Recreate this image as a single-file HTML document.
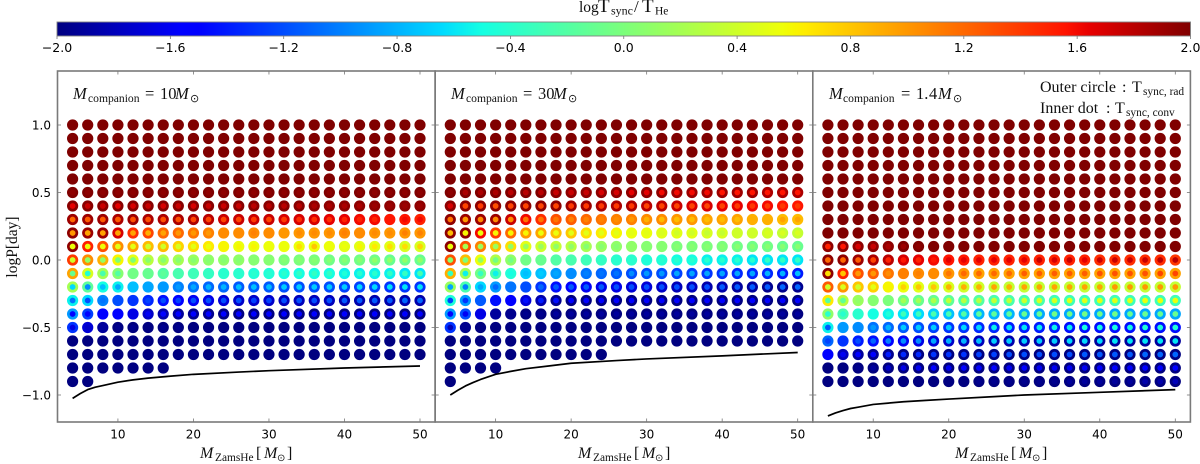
<!DOCTYPE html>
<html lang="en">
<head>
<meta charset="utf-8">
<title>Synchronisation timescale grid</title>
<style>
html,body{margin:0;padding:0;background:#fff;width:1200px;height:464px;overflow:hidden}
svg{display:block}
.tick{font-family:"DejaVu Sans",sans-serif;font-size:12px;fill:#000}
.cbtick{font-family:"DejaVu Sans",sans-serif;font-size:12.5px;fill:#000}
.m{font-family:"Liberation Serif","DejaVu Serif",serif;fill:#111}
.i{font-style:italic}
</style>
</head>
<body>
<svg id="chart" xmlns="http://www.w3.org/2000/svg" width="1200" height="464" viewBox="0 0 1200 464">
  <g id="panels"></g>
  <g id="colorbar"></g>
  <g>
    <text class="m" y="12" font-size="15.5"><tspan x="579">log</tspan><tspan x="598" font-size="19">T</tspan><tspan x="611" dy="2.5" font-size="12">sync</tspan><tspan x="634" dy="-2.5" font-size="17">/</tspan><tspan x="642" font-size="19">T</tspan><tspan x="655" dy="2.5" font-size="11.5">He</tspan></text>
  </g>
  <g>
    <text class="m" y="99" font-size="16.5"><tspan class="i" x="73">M</tspan><tspan x="88" dy="3" font-size="11.6">companion</tspan><tspan x="145" dy="-3">=</tspan><tspan x="160">10</tspan><tspan class="i" x="175">M</tspan><tspan x="190" dy="3" font-size="11" font-family="DejaVu Sans">⊙</tspan></text>
  </g>
  <g>
    <text class="m" y="99" font-size="16.5"><tspan class="i" x="451">M</tspan><tspan x="466" dy="3" font-size="11.6">companion</tspan><tspan x="523" dy="-3">=</tspan><tspan x="538">30</tspan><tspan class="i" x="553">M</tspan><tspan x="568" dy="3" font-size="11" font-family="DejaVu Sans">⊙</tspan></text>
  </g>
  <g>
    <text class="m" y="99" font-size="16.5"><tspan class="i" x="829">M</tspan><tspan x="843" dy="3" font-size="11.6">companion</tspan><tspan x="901" dy="-3">=</tspan><tspan x="916">1.</tspan><tspan x="929">4</tspan><tspan class="i" x="938">M</tspan><tspan x="953" dy="3" font-size="11" font-family="DejaVu Sans">⊙</tspan></text>
  </g>
  <g>
    <text class="m" y="92" font-size="16"><tspan x="1040">Outer circle</tspan><tspan x="1122">:</tspan><tspan x="1132">T</tspan><tspan x="1143" dy="3" font-size="11.4">sync, rad</tspan></text>
    <text class="m" y="113" font-size="16"><tspan x="1040">Inner dot</tspan><tspan x="1106">:</tspan><tspan x="1115">T</tspan><tspan x="1126" dy="3" font-size="11.4">sync, conv</tspan></text>
  </g>
  <text class="m" font-size="15.5" transform="translate(17,247) rotate(-90)" text-anchor="middle">logP[day]</text>
  <g>
    <text class="m" y="458" font-size="16"><tspan class="i" x="200">M</tspan><tspan x="215" dy="3" font-size="11.4">ZamsHe</tspan><tspan x="256" dy="-3">[</tspan><tspan class="i" x="264">M</tspan><tspan x="277" dy="3" font-size="10" font-family="DejaVu Sans">⊙</tspan><tspan x="287" dy="-3">]</tspan></text>
    <text class="m" y="458" font-size="16"><tspan class="i" x="578">M</tspan><tspan x="593" dy="3" font-size="11.4">ZamsHe</tspan><tspan x="634" dy="-3">[</tspan><tspan class="i" x="642">M</tspan><tspan x="655" dy="3" font-size="10" font-family="DejaVu Sans">⊙</tspan><tspan x="665" dy="-3">]</tspan></text>
    <text class="m" y="458" font-size="16"><tspan class="i" x="955">M</tspan><tspan x="970" dy="3" font-size="11.4">ZamsHe</tspan><tspan x="1011" dy="-3">[</tspan><tspan class="i" x="1019">M</tspan><tspan x="1032" dy="3" font-size="10" font-family="DejaVu Sans">⊙</tspan><tspan x="1042" dy="-3">]</tspan></text>
  </g>
</svg>
<script>
const massValues=[4,6,8,10,12,14,16,18,20,22,24,26,28,30,32,34,36,38,40,42,44,46,48,50];
const periodValues=[1.0,0.9,0.8,0.7,0.6,0.5,0.4,0.3,0.2,0.1,0.0,-0.1,-0.2,-0.3,-0.4,-0.5,-0.6,-0.7,-0.8,-0.9];
const xTicks=[10,20,30,40,50];
const yTicks=[1.0,0.5,0.0,-0.5,-1.0];
const colorbarTicks=[-2.0,-1.6,-1.2,-0.8,-0.4,0.0,0.4,0.8,1.2,1.6,2.0];

const panel1Outer=[
[2,2,2,2,2,2,2,2,2,2,2,2,2,2,2,2,2,2,2,2,2,2,2,2],
[2,2,2,2,2,2,2,2,2,2,2,2,2,2,2,2,2,2,2,2,2,2,2,2],
[2,2,2,2,2,2,2,2,2,2,2,2,2,2,2,2,2,2,2,2,2,2,2,2],
[2,2,2,2,2,2,2,2,2,2,2,2,2,2,2,2,2,2,2,2,2,2,2,2],
[2,2,2,2,2,2,2,2,2,2,2,2,2,2,2,2,2,2,2,2,2,2,2,2],
[2,2,2,2,2,2,2,2,2,2,2,2,2,2,2,2,2,2,2,2,2,2,2,2],
[1.97,1.97,1.97,1.97,1.97,1.97,1.97,1.97,1.97,1.97,1.97,1.97,1.97,1.97,1.97,1.97,1.95,1.95,1.95,1.95,1.95,1.95,1.95,1.95],
[1.9,1.9,1.9,1.85,1.9,1.85,1.85,1.85,1.85,1.8,1.75,1.75,1.75,1.75,1.7,1.7,1.7,1.65,1.65,1.6,1.6,1.55,1.55,1.5],
[1.95,1.9,1.9,1.7,1.45,1.35,1.2,1.2,1.15,1.1,1.05,1.05,1.05,1.05,1,1,1,1,1.05,1.05,1,1,1,1],
[1.95,1.5,1.3,1.05,.95,.85,.85,.75,.7,.65,.6,.55,.55,.55,.55,.55,.55,.55,.5,.5,.5,.5,.45,.45],
[1.4,1.05,.9,.6,.5,.3,.25,.2,.15,.1,.1,.1,.05,.05,0,0,0,-.05,-.05,-.05,-.05,-.1,-.1,-.1],
[.95,.45,.2,.05,-.05,-.1,-.2,-.25,-.3,-.35,-.4,-.4,-.45,-.45,-.5,-.5,-.5,-.5,-.55,-.55,-.55,-.55,-.6,-.6],
[.2,-.15,-.5,-.55,-.75,-.85,-.9,-1,-1.05,-1.1,-1.1,-1.15,-1.15,-1.15,-1.2,-1.2,-1.2,-1.2,-1.25,-1.25,-1.25,-1.3,-1.3,-1.3],
[-.55,-.65,-1,-1.2,-1.3,-1.35,-1.45,-1.55,-1.6,-1.65,-1.7,-1.75,-1.75,-1.75,-1.8,-1.8,-1.8,-1.8,-1.85,-1.85,-1.85,-1.85,-1.85,-1.85],
[-.9,-1.25,-1.5,-1.55,-1.65,-1.75,-1.85,-1.9,-1.95,-1.95,-2,-2,-2,-2,-2,-2,-2,-2,-2,-2,-2,-2,-2,-2],
[-1.3,-1.7,-1.9,-2,-2,-2,-2,-2,-2,-2,-2,-2,-2,-2,-2,-2,-2,-2,-2,-2,-2,-2,-2,-2],
[-2,-2,-2,-2,-2,-2,-2,-2,-2,-2,-2,-2,-2,-2,-2,-2,-2,-2,-2,-2,-2,-2,-2,-2],
[-2,-2,-2,-2,-2,-2,-2,-2,-2,-2,-2,-2,-2,-2,-2,-2,-2,-2,-2,-2,-2,-2,-2,-2],
[-2,-2,-2,-2,-2,-2,-2,null,null,null,null,null,null,null,null,null,null,null,null,null,null,null,null,null],
[-2,-2,null,null,null,null,null,null,null,null,null,null,null,null,null,null,null,null,null,null,null,null,null,null]
];
const panel1Inner=[
[2,2,2,2,2,2,2,2,2,2,2,2,2,2,2,2,2,2,2,2,2,2,2,2],
[2,2,2,2,2,2,2,2,2,2,2,2,2,2,2,2,2,2,2,2,2,2,2,2],
[2,2,2,2,2,2,2,2,2,2,2,2,2,2,2,2,2,2,2,2,2,2,2,2],
[2,2,2,2,2,2,2,2,2,2,2,2,2,2,2,2,2,2,2,2,2,2,2,2],
[2,2,2,2,2,2,2,2,2,2,2,2,2,2,2,2,2,2,2,2,2,2,2,2],
[1.95,1.95,1.95,1.95,1.95,1.95,1.95,1.95,1.95,1.95,1.95,1.95,1.95,1.95,1.95,1.95,1.95,1.95,1.95,1.95,1.95,1.95,1.95,1.95],
[1.65,1.75,1.75,1.65,1.7,1.75,1.7,1.75,1.7,1.75,1.75,1.75,1.8,1.8,1.8,1.8,1.85,1.85,1.85,1.85,1.9,1.9,1.9,1.9],
[1.2,1.25,1.25,1.25,1.3,1.3,1.3,1.3,1.35,1.35,1.35,1.35,1.4,1.35,1.4,1.45,1.45,1.45,1.5,1.5,1.5,1.55,1.6,1.6],
[1,.95,.95,.95,.95,.9,.95,1,1,1,1.05,1.05,1.1,1.05,1,1.05,1.05,1.05,1.1,1.05,1.05,1.05,1.1,1.1],
[.55,.55,.55,.5,.5,.4,.4,.45,.5,.55,.6,.6,.6,.55,.55,.7,.8,.55,.55,.6,.65,.7,.7,.75],
[.4,.1,.1,0,0,.05,.05,.05,.05,.05,.05,.05,.05,.05,.05,.05,.05,.05,.05,.05,.1,.1,.1,.1],
[-.1,-.45,-.25,-.2,-.05,-.1,-.15,-.25,-.3,-.35,-.4,-.4,-.4,-.4,-.4,-.35,-.35,-.35,-.45,-.4,-.4,-.35,-.35,-.25],
[-.65,-.95,-.75,-.85,-.75,-.85,-.9,-.9,-.85,-.8,-.8,-.75,-.75,-.75,-.7,-.7,-.7,-.7,-.7,-.65,-.65,-.6,-.6,-.6],
[-1.05,-1.2,-1.05,-1.2,-1.3,-1.25,-1.2,-1.25,-1.2,-1.2,-1.2,-1.2,-1.25,-1.25,-1.2,-1.2,-1.2,-1.2,-1.15,-1.15,-1.15,-1.15,-1.1,-1.1],
[-1.5,-1.55,-1.5,-1.55,-1.65,-1.6,-1.55,-1.55,-1.5,-1.5,-1.55,-1.55,-1.55,-1.55,-1.55,-1.55,-1.55,-1.55,-1.5,-1.5,-1.5,-1.5,-1.5,-1.5],
[-1.65,-1.75,-1.9,-1.95,-1.95,-2,-1.95,-1.95,-2,-2,-2,-2,-2,-2,-2,-2,-2,-2,-2,-2,-2,-2,-2,-2],
[-2,-2,-2,-2,-2,-2,-2,-2,-2,-2,-2,-2,-2,-2,-2,-2,-2,-2,-2,-2,-2,-2,-2,-2],
[-2,-2,-2,-2,-2,-2,-2,-2,-2,-2,-2,-2,-2,-2,-2,-2,-2,-2,-2,-2,-2,-2,-2,-2],
[-2,-2,-2,-2,-2,-2,-2,null,null,null,null,null,null,null,null,null,null,null,null,null,null,null,null,null],
[-2,-2,null,null,null,null,null,null,null,null,null,null,null,null,null,null,null,null,null,null,null,null,null,null]
];
const panel2Outer=[
[2,2,2,2,2,2,2,2,2,2,2,2,2,2,2,2,2,2,2,2,2,2,2,2],
[2,2,2,2,2,2,2,2,2,2,2,2,2,2,2,2,2,2,2,2,2,2,2,2],
[2,2,2,2,2,2,2,2,2,2,2,2,2,2,2,2,2,2,2,2,2,2,2,2],
[2,2,2,2,2,2,2,2,2,2,2,2,2,2,2,2,2,2,2,2,2,2,2,2],
[2,2,2,2,2,2,2,2,2,2,2,2,2,2,2,2,2,2,2,2,2,2,2,2],
[2,2,2,2,2,2,2,1.97,1.95,1.95,1.95,1.95,1.95,1.95,1.95,1.9,1.9,1.9,1.9,1.9,1.9,1.85,1.85,1.85],
[1.95,1.95,1.95,1.95,1.95,1.95,1.95,1.95,1.9,1.9,1.85,1.85,1.85,1.8,1.8,1.75,1.7,1.7,1.65,1.65,1.6,1.6,1.55,1.55],
[1.95,1.9,1.9,1.9,1.75,1.6,1.45,1.3,1.25,1.2,1.15,1.1,1.1,1.05,1.05,1,1,.95,.95,.95,.9,.9,.85,.85],
[1.95,1.95,1.6,1.4,1.2,1,.95,.85,.8,.7,.65,.6,.55,.55,.5,.5,.5,.45,.45,.4,.4,.4,.35,.35],
[1.95,1.3,1.1,.85,.7,.5,.4,.35,.3,.2,.15,.1,.1,.05,.05,0,0,0,0,-.05,-.05,-.05,-.1,-.1],
[1.3,.85,.55,.25,.1,-.05,-.1,-.2,-.25,-.3,-.35,-.4,-.4,-.45,-.45,-.5,-.5,-.55,-.55,-.55,-.6,-.6,-.6,-.6],
[.9,.2,-.05,-.25,-.45,-.7,-.75,-.9,-.95,-1.05,-1.1,-1.15,-1.2,-1.2,-1.2,-1.25,-1.25,-1.3,-1.3,-1.35,-1.35,-1.35,-1.4,-1.4],
[.15,-.25,-.65,-.9,-1.05,-1.2,-1.3,-1.45,-1.55,-1.6,-1.65,-1.65,-1.7,-1.7,-1.75,-1.8,-1.8,-1.85,-1.85,-1.9,-1.9,-1.95,-1.95,-1.95],
[-.45,-.9,-1.15,-1.45,-1.5,-1.7,-1.85,-1.95,-2,-2,-2,-2,-2,-2,-2,-2,-2,-2,-2,-2,-2,-2,-2,-2],
[-.9,-1.2,-1.65,-1.9,-1.95,-2,-2,-2,-2,-2,-2,-2,-2,-2,-2,-2,-2,-2,-2,-2,-2,-2,-2,-2],
[-1.3,-1.95,-2,-2,-2,-2,-2,-2,-2,-2,-2,-2,-2,-2,-2,-2,-2,-2,-2,-2,-2,-2,-2,-2],
[-2,-2,-2,-2,-2,-2,-2,-2,-2,-2,-2,-2,-2,-2,-2,-2,-2,-2,-2,-2,-2,-2,-2,-2],
[-2,-2,-2,-2,-2,-2,-2,-2,-2,-2,-2,null,null,null,null,null,null,null,null,null,null,null,null,null],
[-2,-2,-2,-2,null,null,null,null,null,null,null,null,null,null,null,null,null,null,null,null,null,null,null,null],
[-2,null,null,null,null,null,null,null,null,null,null,null,null,null,null,null,null,null,null,null,null,null,null,null]
];
const panel2Inner=[
[2,2,2,2,2,2,2,2,2,2,2,2,2,2,2,2,2,2,2,2,2,2,2,2],
[2,2,2,2,2,2,2,2,2,2,2,2,2,2,2,2,2,2,2,2,2,2,2,2],
[2,2,2,2,2,2,2,2,2,2,2,2,2,2,2,2,2,2,2,2,2,2,2,2],
[2,2,2,2,2,2,2,2,2,2,2,2,2,2,2,2,2,2,2,2,2,2,2,2],
[2,2,2,2,2,2,2,2,2,2,2,2,2,2,2,2,2,2,2,2,2,2,2,2],
[1.95,1.85,1.85,1.85,1.8,1.8,1.8,1.75,1.75,1.75,1.7,1.7,1.65,1.65,1.6,1.6,1.6,1.6,1.55,1.55,1.55,1.55,1.55,1.55],
[1.7,1.35,1.4,1.3,1.35,1.35,1.35,1.35,1.4,1.4,1.4,1.4,1.4,1.35,1.35,1.35,1.35,1.35,1.35,1.4,1.4,1.4,1.4,1.4],
[1.15,1,1.05,1.05,1.05,1.15,1.15,1.15,1.1,1.1,1.1,1.05,1,.9,.85,.85,.85,.85,.85,.85,.9,.9,.95,.95],
[.85,.6,.55,.6,.6,.6,.55,.55,.5,.5,.5,.5,.5,.5,.45,.4,.4,.35,.35,.4,.4,.45,.45,.45],
[.55,.2,.15,.15,.1,.15,.15,.1,.1,.05,.05,.05,.1,.05,.05,.05,.05,.05,.05,.05,.05,.05,.05,.05],
[.05,0,.1,-.05,-.05,-.05,-.1,-.2,-.25,-.3,-.35,-.4,-.4,-.45,-.4,-.4,-.4,-.4,-.4,-.4,-.4,-.35,-.35,-.35],
[-.35,-.55,-.35,-.55,-.5,-.75,-.7,-.85,-.95,-1,-1.05,-1.05,-.95,-.9,-.9,-.85,-.85,-.85,-.85,-.85,-.85,-.8,-.8,-.75],
[-.85,-1,-.85,-1.1,-1.05,-1.2,-1.1,-1.15,-1.15,-1.15,-1.15,-1.2,-1.2,-1.2,-1.2,-1.2,-1.2,-1.2,-1.15,-1.15,-1.15,-1.15,-1.1,-1.1],
[-1.25,-1.3,-1.15,-1.45,-1.5,-1.45,-1.4,-1.45,-1.5,-1.5,-1.5,-1.5,-1.55,-1.55,-1.55,-1.55,-1.55,-1.55,-1.5,-1.5,-1.5,-1.5,-1.5,-1.5],
[-1.55,-1.6,-1.65,-1.9,-1.95,-1.95,-1.95,-1.9,-1.9,-1.9,-1.9,-1.9,-1.9,-1.9,-1.9,-1.9,-1.9,-1.9,-1.9,-1.9,-1.9,-1.9,-1.9,-1.9],
[-1.8,-1.95,-2,-2,-2,-2,-2,-2,-2,-2,-2,-2,-2,-2,-2,-2,-2,-2,-2,-2,-2,-2,-2,-2],
[-2,-2,-2,-2,-2,-2,-2,-2,-2,-2,-2,-2,-2,-2,-2,-2,-2,-2,-2,-2,-2,-2,-2,-2],
[-2,-2,-2,-2,-2,-2,-2,-2,-2,-2,-2,null,null,null,null,null,null,null,null,null,null,null,null,null],
[-2,-2,-2,-2,null,null,null,null,null,null,null,null,null,null,null,null,null,null,null,null,null,null,null,null],
[-2,null,null,null,null,null,null,null,null,null,null,null,null,null,null,null,null,null,null,null,null,null,null,null]
];
const panel3Outer=[
[2,2,2,2,2,2,2,2,2,2,2,2,2,2,2,2,2,2,2,2,2,2,2,2],
[2,2,2,2,2,2,2,2,2,2,2,2,2,2,2,2,2,2,2,2,2,2,2,2],
[2,2,2,2,2,2,2,2,2,2,2,2,2,2,2,2,2,2,2,2,2,2,2,2],
[2,2,2,2,2,2,2,2,2,2,2,2,2,2,2,2,2,2,2,2,2,2,2,2],
[2,2,2,2,2,2,2,2,2,2,2,2,2,2,2,2,2,2,2,2,2,2,2,2],
[2,2,2,2,2,2,2,2,2,2,2,2,2,2,2,2,2,2,2,2,2,2,2,2],
[2,2,2,2,2,2,2,2,2,2,2,2,2,2,2,2,2,2,2,2,2,2,2,2],
[2,2,2,2,2,2,2,2,2,2,2,2,2,2,2,2,2,2,2,2,2,2,2,2],
[2,2,2,2,2,2,2,2,2,2,2,2,2,2,2,2,2,2,2,2,2,2,2,2],
[1.95,1.95,1.95,1.95,1.95,2,2,2,2,2,2,2,2,2,2,2,2,2,2,2,2,2,2,2],
[1.95,1.95,1.9,1.85,1.8,1.7,1.65,1.6,1.55,1.55,1.5,1.5,1.5,1.5,1.5,1.5,1.5,1.5,1.45,1.45,1.45,1.45,1.45,1.4],
[1.95,1.5,1.3,1.25,1.15,1.1,1.05,1.05,1,1,.95,.95,.95,.95,.95,.95,.95,.95,.95,.95,.95,.95,.95,.95],
[1.25,1,.8,.75,.6,.55,.5,.45,.45,.4,.4,.35,.35,.35,.35,.35,.35,.35,.35,.35,.35,.35,.35,.35],
[.65,.3,.15,.05,0,-.05,-.1,-.1,-.15,-.2,-.2,-.25,-.25,-.25,-.25,-.3,-.3,-.3,-.3,-.3,-.3,-.3,-.3,-.3],
[.1,-.25,-.4,-.5,-.55,-.6,-.65,-.7,-.75,-.75,-.8,-.8,-.8,-.85,-.85,-.85,-.85,-.85,-.85,-.85,-.85,-.85,-.85,-.85],
[-.55,-.9,-.95,-1.05,-1.1,-1.15,-1.2,-1.25,-1.3,-1.3,-1.35,-1.35,-1.4,-1.4,-1.4,-1.4,-1.45,-1.45,-1.45,-1.45,-1.45,-1.45,-1.45,-1.45],
[-1.1,-1.3,-1.4,-1.45,-1.5,-1.6,-1.65,-1.7,-1.75,-1.8,-1.8,-1.85,-1.85,-1.85,-1.85,-1.9,-1.9,-1.9,-1.9,-1.9,-1.9,-1.9,-1.9,-1.9],
[-1.55,-1.8,-1.9,-1.95,-1.95,-2,-2,-2,-2,-2,-2,-2,-2,-2,-2,-2,-2,-2,-2,-2,-2,-2,-2,-2],
[-2,-2,-2,-2,-2,-2,-2,-2,-2,-2,-2,-2,-2,-2,-2,-2,-2,-2,-2,-2,-2,-2,-2,-2],
[-2,-2,-2,-2,-2,-2,-2,-2,-2,-2,-2,-2,-2,-2,-2,-2,-2,-2,-2,-2,-2,-2,-2,-2]
];
const panel3Inner=[
[2,2,2,2,2,2,2,2,2,2,2,2,2,2,2,2,2,2,2,2,2,2,2,2],
[2,2,2,2,2,2,2,2,2,2,2,2,2,2,2,2,2,2,2,2,2,2,2,2],
[2,2,2,2,2,2,2,2,2,2,2,2,2,2,2,2,2,2,2,2,2,2,2,2],
[2,2,2,2,2,2,2,2,2,2,2,2,2,2,2,2,2,2,2,2,2,2,2,2],
[2,2,2,2,2,2,2,2,2,2,2,2,2,2,2,2,2,2,2,2,2,2,2,2],
[2,2,2,2,2,2,2,2,2,2,2,2,2,2,2,2,2,2,2,2,2,2,2,2],
[2,2,2,2,2,2,2,2,2,2,2,2,2,2,2,2,2,2,2,2,2,2,2,2],
[2,2,2,2,2,2,2,2,2,2,2,2,2,2,2,2,2,2,2,2,2,2,2,2],
[2,2,2,2,2,2,2,2,2,2,2,2,2,2,2,2,2,2,2,2,2,2,2,2],
[1.5,1.55,1.7,1.75,1.85,1.9,1.95,2,2,2,2,2,2,2,2,2,2,2,2,2,2,2,2,2],
[1.2,1.2,1.25,1.35,1.5,1.55,1.5,1.55,1.65,1.65,1.65,1.65,1.65,1.65,1.75,1.7,1.75,1.65,1.75,1.75,1.75,1.75,1.8,1.8],
[.7,.8,1,1,1.05,1.1,1.1,1.05,1.15,1.2,1.2,1.2,1.2,1.25,1.25,1.25,1.25,1.25,1.3,1.3,1.3,1.3,1.35,1.35],
[.4,.45,.4,.5,.6,.75,.8,.8,.9,.9,.9,.95,.9,.95,.95,.95,.95,.95,.95,1,1,1,1,1],
[-.2,-.15,.1,.05,0,.2,.2,.25,.35,.3,.3,.35,.35,.4,.45,.45,.5,.5,.5,.5,.5,.55,.55,.55],
[-.4,-.4,-.4,-.5,-.45,-.3,-.3,-.25,-.25,-.2,-.15,-.15,-.15,-.1,-.1,-.05,-.05,-.05,-.05,-.05,-.1,-.1,-.1,-.1],
[-1.15,-.9,-.95,-.9,-.8,-.7,-.7,-.7,-.7,-.65,-.65,-.55,-.6,-.6,-.55,-.55,-.55,-.5,-.5,-.5,-.5,-.45,-.45,-.45],
[-1.25,-1.3,-1.2,-1.1,-1,-.95,-.95,-.85,-.8,-.8,-.75,-.7,-.7,-.7,-.7,-.7,-.65,-.65,-.65,-.6,-.6,-.6,-.6,-.6],
[-1.55,-1.6,-1.55,-1.55,-1.4,-1.35,-1.35,-1.3,-1.3,-1.3,-1.25,-1.25,-1.2,-1.2,-1.2,-1.2,-1.2,-1.15,-1.15,-1.15,-1.15,-1.1,-1.1,-1.1],
[-2,-2,-1.95,-1.9,-1.75,-1.65,-1.6,-1.55,-1.6,-1.55,-1.55,-1.55,-1.6,-1.55,-1.6,-1.6,-1.6,-1.6,-1.55,-1.55,-1.55,-1.55,-1.55,-1.55],
[-2,-2,-2,-2,-2,-2,-2,-2,-2,-2,-1.95,-1.95,-1.95,-1.95,-1.95,-1.95,-1.9,-1.9,-1.9,-1.9,-1.9,-1.85,-1.85,-1.8]
];
const limitMass=[4,5,6,7,8,10,12,14,17,20,26,30,40,50];
const panel1Limit=[-1.025,-.99,-.96,-.942,-.93,-.905,-.888,-.875,-.86,-.847,-.83,-.82,-.8,-.785];
const panel2Limit=[-1.0,-.965,-.933,-.908,-.885,-.847,-.825,-.805,-.785,-.765,-.745,-.733,-.71,-.685];
const panel3Limit=[-1.155,-1.133,-1.115,-1.1,-1.09,-1.07,-1.06,-1.05,-1.04,-1.03,-1.012,-1.0,-.98,-.96];

const SVGNS='http://www.w3.org/2000/svg';
const panelsGroup=document.getElementById('panels');
const colorbarGroup=document.getElementById('colorbar');
const PANEL_TOP=71,PANEL_BOTTOM=422,PANEL_W=377.6;
const panelLefts=[57.5,435.2,812.8];
const panelSeries=[
  {outer:panel1Outer,inner:panel1Inner,limit:panel1Limit},
  {outer:panel2Outer,inner:panel2Inner,limit:panel2Limit},
  {outer:panel3Outer,inner:panel3Inner,limit:panel3Limit}
];
function xScale(left,m){return left+(m-2)/50*PANEL_W;}
function yScale(p){return PANEL_TOP+(1.4-p)/2.6*(PANEL_BOTTOM-PANEL_TOP);}
function seg(t,pts){
  for(let i=1;i<pts.length;i++){
    if(t<=pts[i][0]){
      const a=pts[i-1],b=pts[i];
      return a[1]+(b[1]-a[1])*(t-a[0])/(b[0]-a[0]);
    }
  }
  return pts[pts.length-1][1];
}
const JET_R=[[0,0],[.35,0],[.66,1],[.89,1],[1,.5]];
const JET_G=[[0,0],[.125,0],[.375,1],[.64,1],[.91,0],[1,0]];
const JET_B=[[0,.5],[.11,1],[.34,1],[.65,0],[1,0]];
function jet(v){
  const t=Math.max(0,Math.min(1,(v+2)/4));
  const c=[JET_R,JET_G,JET_B].map(function(p){return Math.round(seg(t,p)*255);});
  return 'rgb('+c.join(',')+')';
}
function make(tag,parent){const e=document.createElementNS(SVGNS,tag);parent.appendChild(e);return e;}
function fmt(v){return (v<0?'\u2212':'')+Math.abs(v).toFixed(1);}

panelSeries.forEach(function(series,pi){
  const left=panelLefts[pi];
  const g=make('g',panelsGroup);
  
  

  const frame=make('rect',g);
  
  
  frame.setAttribute('x',left);
  frame.setAttribute('y',PANEL_TOP);
  frame.setAttribute('width',PANEL_W);
  frame.setAttribute('height',PANEL_BOTTOM-PANEL_TOP);
  frame.setAttribute('fill','#fff');
  frame.setAttribute('stroke','#7a7a7a');
  frame.setAttribute('stroke-width','1.6');

  xTicks.forEach(function(t){
    const x=xScale(left,t);
    [[PANEL_BOTTOM,PANEL_BOTTOM-3.5],[PANEL_TOP,PANEL_TOP+3.5]].forEach(function(p){
      const l=make('line',g);
      
      
      l.setAttribute('x1',x);l.setAttribute('x2',x);
      l.setAttribute('y1',p[0]);l.setAttribute('y2',p[1]);
      l.setAttribute('stroke','#777');l.setAttribute('stroke-width','0.8');
    });
    const label=make('text',g);
    
    
    label.setAttribute('class','tick');
    label.setAttribute('x',x);
    label.setAttribute('y',438.5);
    label.setAttribute('text-anchor','middle');
    label.textContent=String(t);
  });
  yTicks.forEach(function(t){
    const y=yScale(t);
    [[left,left+3.5],[left+PANEL_W,left+PANEL_W-3.5]].forEach(function(p){
      const l=make('line',g);
      
      
      l.setAttribute('x1',p[0]);l.setAttribute('x2',p[1]);
      l.setAttribute('y1',y);l.setAttribute('y2',y);
      l.setAttribute('stroke','#777');l.setAttribute('stroke-width','0.8');
    });
    if(pi===0){
      const label=make('text',g);
      
      
      label.setAttribute('class','tick');
      label.setAttribute('x',51);
      label.setAttribute('y',y+4.3);
      label.setAttribute('text-anchor','end');
      label.textContent=fmt(t);
    }
  });

  periodValues.forEach(function(p,ri){
    massValues.forEach(function(m,ci){
      const ov=series.outer[ri][ci];
      const iv=series.inner[ri][ci];
      if(ov===null||ov===undefined)return;
      const cx=xScale(left,m),cy=yScale(p);
      const o=make('circle',g);
      
      
      o.setAttribute('cx',cx.toFixed(2));
      o.setAttribute('cy',cy.toFixed(2));
      o.setAttribute('r','5.6');
      o.setAttribute('fill',jet(ov));
      if(iv!==ov&&iv!==null&&iv!==undefined){
        const d=make('circle',g);
        
        
        d.setAttribute('cx',cx.toFixed(2));
        d.setAttribute('cy',cy.toFixed(2));
        d.setAttribute('r','2.9');
        d.setAttribute('fill',jet(iv));
      }
    });
  });

  const pathD=limitMass.map(function(m,i){
    return (i?'L':'M')+xScale(left,m).toFixed(2)+' '+yScale(series.limit[i]).toFixed(2);
  }).join(' ');
  const curve=make('path',g);
  
  
  curve.setAttribute('d',pathD);
  curve.setAttribute('fill','none');
  curve.setAttribute('stroke','#000');
  curve.setAttribute('stroke-width','1.7');
  curve.setAttribute('stroke-linejoin','round');
});

/* colour bar */
const CB_LEFT=57,CB_RIGHT=1190.5,CB_TOP=22,CB_BOTTOM=36;
function cbX(v){return CB_LEFT+(v+2)/4*(CB_RIGHT-CB_LEFT);}
const defs=make('defs',colorbarGroup);
const grad=make('linearGradient',defs);
grad.setAttribute('id','jet-gradient');
[-2,-1.56,-1.5,-0.64,-0.5,0.56,0.6,0.64,1.56,1.64,2].forEach(function(v){
  const s=make('stop',grad);
  s.setAttribute('offset',((v+2)/4*100).toFixed(2)+'%');
  s.setAttribute('stop-color',jet(v));
});
const cbRect=make('rect',colorbarGroup);


cbRect.setAttribute('x',CB_LEFT);
cbRect.setAttribute('y',CB_TOP);
cbRect.setAttribute('width',CB_RIGHT-CB_LEFT);
cbRect.setAttribute('height',CB_BOTTOM-CB_TOP);
cbRect.setAttribute('fill','url(#jet-gradient)');
cbRect.setAttribute('stroke','#808080');
cbRect.setAttribute('stroke-width','0.9');
colorbarTicks.forEach(function(v){
  const x=cbX(v);
  const l=make('line',colorbarGroup);
  
  
  l.setAttribute('x1',x);l.setAttribute('x2',x);
  l.setAttribute('y1',CB_BOTTOM);l.setAttribute('y2',CB_BOTTOM+3);
  l.setAttribute('stroke','#777');l.setAttribute('stroke-width','0.8');
  const label=make('text',colorbarGroup);
  
  
  label.setAttribute('class','cbtick');
  label.setAttribute('x',x);
  label.setAttribute('y',52);
  label.setAttribute('text-anchor','middle');
  label.textContent=fmt(v);
});
</script>
</body>
</html>
